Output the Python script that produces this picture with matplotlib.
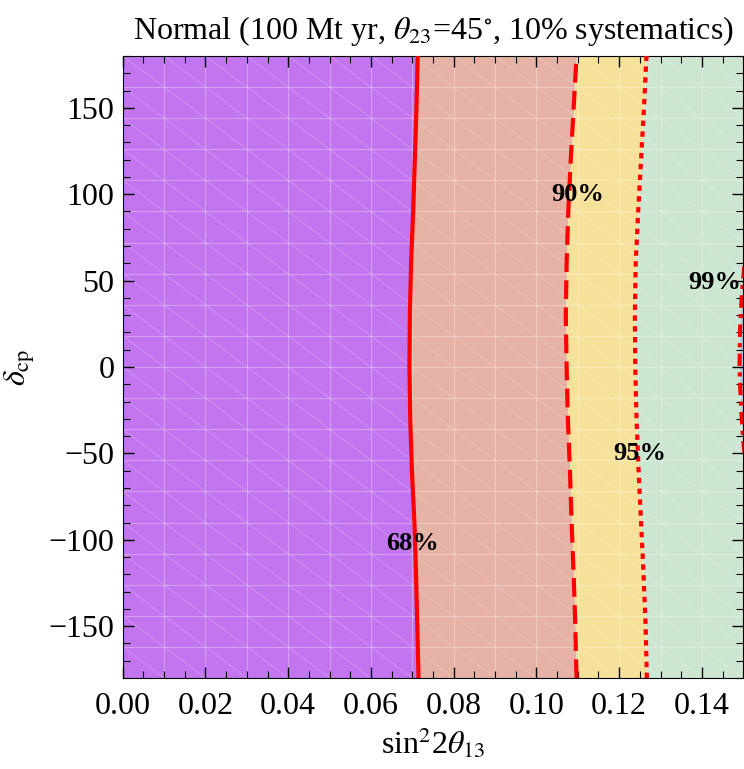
import matplotlib
matplotlib.use("Agg")
import matplotlib.pyplot as plt
import numpy as np

plt.rcParams["font.family"] = ["Liberation Serif", "DejaVu Serif"]
plt.rcParams["mathtext.fontset"] = "stix"

# contour positions (sin^2 2theta13), per delta_cp
delta = [-180, -150, -120, -90, -60, -30, 0, 30, 60, 90, 120, 150, 180]
x68 = [0.0715, 0.0712, 0.0709, 0.0705, 0.0699, 0.0695, 0.0693, 0.0694, 0.0697, 0.0702, 0.0706, 0.0710, 0.0713]
x90 = [0.1097, 0.1094, 0.1090, 0.1085, 0.1081, 0.1076, 0.1073, 0.1071, 0.1073, 0.1077, 0.1083, 0.1090, 0.1097]
x95 = [0.1267, 0.1264, 0.1259, 0.1253, 0.1247, 0.1242, 0.1239, 0.1238, 0.1240, 0.1246, 0.1253, 0.1260, 0.1266]
delta99 = [-50, -40, -20, 0, 20, 40, 60]
x99 = [0.1503, 0.1499, 0.1494, 0.1491, 0.1492, 0.1496, 0.1503]

labels = ["68%", "90%", "95%", "99%"]
label_x = [0.0700, 0.1100, 0.1250, 0.1432]
label_y = [-102, 100, -50, 49]

c_purple = "#c275ef"
c_salmon = "#e6b2a5"
c_yellow = "#f5e199"
c_green = "#cde6d2"
c_blue = "#a9c8ee"

fig = plt.figure(figsize=(7.44, 7.69), dpi=100)
ax = fig.add_axes([0.165, 0.1183, 0.834, 0.8089])

xmax = 0.15
ax.fill_betweenx(delta, 0, x68, color=c_purple, lw=0)
ax.fill_betweenx(delta, x68, x90, color=c_salmon, lw=0)
ax.fill_betweenx(delta, x90, x95, color=c_yellow, lw=0)
ax.fill_betweenx(delta, x95, xmax + 0.01, color=c_green, lw=0)
ax.fill_betweenx(delta99, x99, xmax + 0.01, color=c_blue, lw=0)

# faint mesh lines like the original rendering
for xv in np.arange(0.01, 0.15, 0.01):
    ax.axvline(xv, color="white", lw=0.8, alpha=0.3, zorder=1)
for yv in np.arange(-180 + 18, 180, 18):
    ax.axhline(yv, color="white", lw=0.8, alpha=0.3, zorder=1)
for k in range(-20, 40):
    x0 = k * 0.01
    ax.plot([x0, x0 + 0.20], [180, 180 - 360], color="white", lw=0.6, alpha=0.25, zorder=1)

ax.plot(x68, delta, color="red", lw=3, ls="-", zorder=3)
ax.plot(x90, delta, color="red", lw=3, ls=(0, (4.5, 2)), zorder=3)
ax.plot(x95, delta, color="red", lw=3, ls=(0, (1.3, 1.3)), zorder=3)
ax.plot(x99, delta99, color="red", lw=3, ls=(0, (3, 1.5, 1, 1.5)), zorder=3)

for t, lx, ly in zip(labels, label_x, label_y):
    ax.text(lx, ly, t, ha="center", va="center", fontsize=19, fontweight="bold", zorder=4)

ax.set_xlim(0, xmax)
ax.set_ylim(-180, 180)
ax.set_xticks(np.arange(0, 0.141, 0.02))
ax.set_xticklabels([f"{v:.2f}" for v in np.arange(0, 0.141, 0.02)])
ax.set_xticks(np.arange(0, 0.151, 0.005), minor=True)
ax.set_yticks([-150, -100, -50, 0, 50, 100, 150])
ax.set_yticklabels(["\u2212150", "\u2212100", "\u221250", "0", "50", "100", "150"])
ax.set_yticks(np.arange(-180, 181, 10), minor=True)
ax.tick_params(which="both", direction="in", top=True, right=True, labelsize=23)
ax.tick_params(axis="x", pad=10)
ax.tick_params(axis="y", pad=6)
ax.tick_params(which="major", length=8, width=1)
ax.tick_params(which="minor", length=5, width=0.8)

ax.set_title(r"Normal (100 Mt yr, $\theta_{23}$=45$^{\circ}$, 10% systematics)", fontsize=23, pad=12)
ax.set_xlabel(r"sin$^{2}$2$\theta_{13}$", fontsize=23, labelpad=4)
ax.set_ylabel(r"$\delta_{\rm cp}$", fontsize=23, labelpad=8)

fig.savefig("out.png", dpi=100)
